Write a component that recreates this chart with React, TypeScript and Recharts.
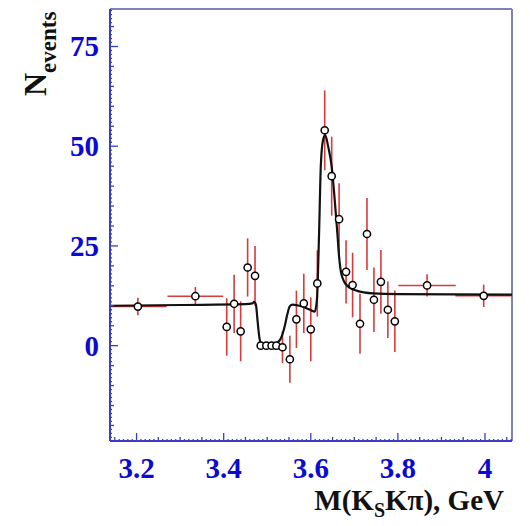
import { ComposedChart, XAxis, YAxis, Scatter, Line, ErrorBar, ReferenceLine } from 'recharts';

// axis layout
const X_DOMAIN: [number, number] = [3.139, 4.062];
const Y_DOMAIN: [number, number] = [-23.9, 84.4];
const xMajorTicks = [3.2, 3.4, 3.6, 3.8, 4];
const xTickLabels = ['3.2', '3.4', '3.6', '3.8', '4'];
const yMajorTicks = [0, 25, 50, 75];
const yTickLabels = ['0', '25', '50', '75'];

// measured bins: invariant mass (GeV), events, errors
const mass = [
  3.203, 3.335, 3.407, 3.424, 3.439, 3.455, 3.472, 3.485, 3.498, 3.510,
  3.521, 3.535, 3.552, 3.567, 3.584, 3.600, 3.615, 3.632, 3.648, 3.665,
  3.681, 3.696, 3.713, 3.729, 3.745, 3.761, 3.777, 3.793, 3.867, 3.997,
];
const events = [
  9.8, 12.4, 4.7, 10.5, 3.6, 19.6, 17.5, 0, 0, 0,
  0, -0.4, -3.4, 6.6, 10.6, 4.1, 15.6, 54.0, 42.5, 31.7,
  18.5, 15.2, 5.5, 28.0, 11.5, 16.0, 9.0, 6.1, 15.1, 12.5,
];
const eventsErr = [
  2.2, 2.3, 7.2, 7.3, 7.5, 7.3, 7.5, 0, 0, 0,
  0, 4.0, 5.9, 7.2, 7.4, 8.0, 8.3, 10.0, 9.9, 9.0,
  7.9, 8.1, 7.5, 9.0, 8.1, 8.0, 7.1, 7.7, 2.8, 2.8,
];
const massErr = [
  0.066, 0.064, 0, 0, 0, 0, 0, 0, 0, 0,
  0, 0, 0, 0, 0, 0, 0, 0, 0, 0,
  0, 0, 0, 0, 0, 0, 0, 0, 0.066, 0.065,
];

// fit curve
const fitMass = [
  3.139, 3.30, 3.45, 3.466, 3.470, 3.474, 3.478, 3.482, 3.487, 3.495,
  3.515, 3.524, 3.532, 3.540, 3.546, 3.552, 3.558, 3.580, 3.598, 3.609,
  3.614, 3.619, 3.623, 3.628, 3.633, 3.640, 3.648, 3.655, 3.661, 3.665,
  3.670, 3.682, 3.705, 3.743, 3.80, 4.062,
];
const fitEvents = [
  10.0, 10.2, 10.4, 10.6, 11.0, 10.3, 6.0, 2.0, 0.3, 0,
  0, 0.8, 2.0, 4.8, 7.8, 9.9, 10.3, 9.8, 9.0, 8.5,
  11.4, 28.0, 45.0, 51.5, 52.8, 49.9, 44.9, 36.5, 28.2, 22.3,
  18.1, 15.2, 13.8, 13.1, 12.9, 12.8,
];

const points = mass.map((x, i) => ({ x, y: events[i], ex: massErr[i], ey: eventsErr[i] }));
const fit = fitMass.map((x, i) => ({ x, y: fitEvents[i] }));

// minor ticks every 0.01 GeV and every event
const xTickValues = Array.from({ length: 93 }, (_, k) => (314 + k) / 100);
const yTickValues = Array.from({ length: 108 }, (_, k) => k - 23);

const AXIS = '#3c3cc4';
const FRAME = '#8282b4';
const LABEL = '#0a0ad2';
const FONT = '"Liberation Serif", "Times New Roman", serif';

function XTick(props: any) {
  const { x, y, payload } = props;
  const i = Math.round(payload.value * 100);
  const len = i % 20 === 0 ? 8 : i % 5 === 0 ? 4 : 2;
  const idx = xMajorTicks.findIndex((t) => Math.abs(t - payload.value) < 1e-6);
  return (
    <g>
      <line x1={x} x2={x} y1={y} y2={y - len} stroke={AXIS} strokeWidth={1.3} />
      {idx >= 0 && (
        <text x={x} y={y + 37} textAnchor="middle" fill={LABEL} fontFamily={FONT} fontWeight="bold" fontSize={29}>
          {xTickLabels[idx]}
        </text>
      )}
    </g>
  );
}

function YTick(props: any) {
  const { x, y, payload } = props;
  const v = payload.value;
  const len = v % 25 === 0 ? 8 : v % 5 === 0 ? 4 : 2;
  const idx = yMajorTicks.indexOf(v);
  return (
    <g>
      <line x1={x} x2={x + len} y1={y} y2={y} stroke={AXIS} strokeWidth={1.3} />
      {idx >= 0 && (
        <text x={x - 11} y={y + 10} textAnchor="end" fill={LABEL} fontFamily={FONT} fontWeight="bold" fontSize={29}>
          {yTickLabels[idx]}
        </text>
      )}
    </g>
  );
}

function XTitle() {
  return (
    <text x={504} y={510} textAnchor="end" fill="#111" fontFamily={FONT} fontWeight="bold" fontSize={29}>
      M(K<tspan fontSize={20} dy={7}>S</tspan>
      <tspan dy={-7}>Kπ), GeV</tspan>
    </text>
  );
}

function YTitle() {
  return (
    <text transform="rotate(-90)" x={-96} y={46} fill="#111" fontFamily={FONT} fontWeight="bold" fontSize={32}>
      N<tspan fontSize={23} dy={10}>events</tspan>
    </text>
  );
}

function Dot(props: any) {
  const { cx, cy } = props;
  return <circle cx={cx} cy={cy} r={3.6} fill="#fff" stroke="#000" strokeWidth={1.5} />;
}

export default function App() {
  return (
    <div style={{ position: 'absolute', left: 0, top: 0, background: '#fff' }}>
      <ComposedChart width={530} height={526} margin={{ top: 9, right: 18, bottom: 0, left: 0 }}>
        <XAxis
          type="number"
          dataKey="x"
          domain={X_DOMAIN}
          allowDataOverflow
          ticks={xTickValues}
          interval={0}
          tick={<XTick />}
          tickLine={false}
          tickSize={0}
          tickMargin={0}
          height={85}
          axisLine={{ stroke: AXIS, strokeWidth: 2 }}
          label={<XTitle />}
        />
        <YAxis
          type="number"
          dataKey="y"
          domain={Y_DOMAIN}
          allowDataOverflow
          ticks={yTickValues}
          interval={0}
          tick={<YTick />}
          tickLine={false}
          tickSize={0}
          tickMargin={0}
          width={110}
          axisLine={{ stroke: AXIS, strokeWidth: 2 }}
          label={<YTitle />}
        />
        <ReferenceLine y={Y_DOMAIN[1]} stroke={FRAME} strokeWidth={2} />
        <ReferenceLine x={X_DOMAIN[1]} stroke={FRAME} strokeWidth={2} />
        <Scatter data={points} dataKey="y" shape={<Dot />} isAnimationActive={false}>
          <ErrorBar dataKey="ey" direction="y" width={0} stroke="#d93a3a" strokeWidth={1.6} />
          <ErrorBar dataKey="ex" direction="x" width={0} stroke="#d93a3a" strokeWidth={1.6} />
        </Scatter>
        <Line
          data={fit}
          dataKey="y"
          type="monotone"
          stroke="#111"
          strokeWidth={2.2}
          dot={false}
          activeDot={false}
          isAnimationActive={false}
        />
      </ComposedChart>
    </div>
  );
}
